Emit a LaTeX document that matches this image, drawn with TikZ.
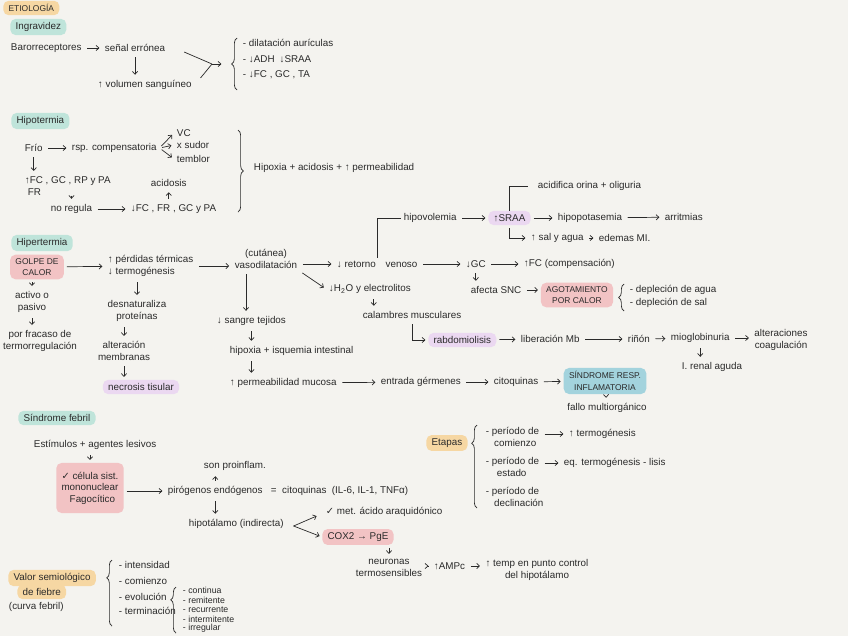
\documentclass[tikz,border=0pt]{standalone}
\usepackage{fontspec}
\setmainfont{Liberation Sans}
\newfontfamily\symfont{DejaVu Sans}
\usetikzlibrary{positioning,arrows.meta,decorations.pathreplacing}
\definecolor{paper}{HTML}{F4F3EF}
\definecolor{ink}{HTML}{2A2A2A}
\definecolor{hlorange}{HTML}{F6D7A3}
\definecolor{hlteal}{HTML}{BFE4DA}
\definecolor{hlpink}{HTML}{F2C3C4}
\definecolor{hllilac}{HTML}{EBD8F1}
\definecolor{hlblue}{HTML}{A3D3DD}
\newcommand{\chk}{{\symfont ✓}}
\newcommand{\caps}{\fontsize{4.8}{5.8}\selectfont}

\begin{document}
\begin{tikzpicture}[x=0.02cm, y=-0.02cm,
  every node/.style={font=\fontsize{5.6}{6.6}\selectfont, text=ink, inner sep=1.5pt},
  txt/.style={anchor=west},
  hl/.style={fill=#1, rounded corners=3pt, inner xsep=3pt, inner ysep=2pt},
  ln/.style={draw=ink, line width=0.4pt},
  arr/.style={ln, -{Straight Barb[length=1.6pt,width=3pt]}, shorten <=1.5pt, shorten >=1.5pt},
  brc/.style={ln, decorate, decoration={brace, amplitude=3pt, aspect=#1}}, brc/.default=0.5]
\fill[paper] (0,0) rectangle (848,636);
\useasboundingbox (0,0) rectangle (848,636);

% etiologia - ingravidez
\node[hl=hlorange, txt] (etio) at (3,8) {\caps ETIOLOGÍA};
\node[hl=hlteal, txt] (ingr) at (10,27) {Ingravidez};
\node[txt] (baro) at (8,48) {Barorreceptores};
\node[txt] (senal) at (102,48) {señal errónea};
\node[txt] (vol) at (95,85) {↑ volumen sanguíneo};
\coordinate (m1) at (212,64);
\coordinate (b1) at (224,64);
\node[txt] (d1) at (240,43) {- dilatación aurículas};
\node[txt] (d2) at (240,59) {- ↓ADH\enspace ↓SRAA};
\node[txt] (d3) at (240,75) {- ↓FC , GC , TA};

\draw[arr] (baro) -- (senal);
\draw[arr] (senal.south) -- (senal.south |- vol.north);
\draw[ln] ([shift={(16,4)}]senal.east) -- (m1);
\draw[ln] ([shift={(6,-7)}]vol.east) -- (m1);
\draw[arr, shorten <=0pt] (m1) -- (b1);
\draw[brc] (237,90) -- (237,38);

% hipotermia
\node[hl=hlteal, txt] (hipo) at (11,121) {Hipotermia};
\node[txt] (frio) at (22,148) {Frío};
\node[txt] (resp) at (69,148) {rsp. compensatoria};
\node[txt] (vc) at (174,133) {VC};
\node[txt] (sudor) at (174,145) {x sudor};
\node[txt] (tembl) at (174,159) {temblor};
\node[txt] (fc1) at (22,181) {↑FC , GC , RP y PA};
\node[txt] (fr1) at (25,192) {FR};
\node[txt] (noreg) at (48,209) {no regula};
\node[txt] (fc2) at (128,209) {↓FC , FR , GC y PA};
\node[txt] (acid) at (148,183) {acidosis};
\node[txt] (hipox) at (251,168) {Hipoxia + acidosis + ↑ permeabilidad};

\draw[arr] (frio) -- (resp);
\draw[arr] (resp.east) -- (vc.west);
\draw[arr] (resp.east) -- (sudor.west);
\draw[arr] (resp.east) -- (tembl.west);
\draw[arr] (frio.south) -- (frio.south |- fc1.north);
\draw[arr] (noreg.north |- fr1.south) -- (noreg.north);
\draw[arr] (noreg) -- (fc2);
\draw[arr] (acid.south |- fc2.north) -- (acid.south);
\draw[brc] (238,130) -- (238,212);

% hipertermia
\node[hl=hlteal, txt] (hiper) at (11,243) {Hipertermia};
\node[hl=hlpink, align=center] (golpe) at (37,267) {\caps GOLPE DE\\\caps CALOR};
\node[align=center] (activo) at (32,302) {activo o\\pasivo};
\node[align=center] (fracaso) at (40,341) {por fracaso de\\termorregulación};
\node[align=left, txt] (perd) at (105,266) {↑ pérdidas térmicas\\↓ termogénesis};
\node[align=center] (desn) at (137,311) {desnaturaliza\\proteínas};
\node[align=center] (alter) at (124,351) {alteración\\membranas};
\node[hl=hllilac] (necro) at (141,387) {necrosis tisular};

\draw[arr] (activo.north |- golpe.south) -- (activo.north);
\draw[arr] (activo.south) -- (activo.south |- fracaso.north);
\draw[arr] (golpe) -- (perd);
\draw[arr] (desn.north |- perd.south) -- (desn.north);
\draw[arr] (alter.north |- desn.south) -- (alter.north);
\draw[arr] (alter.south) -- (alter.south |- necro.north);

\node[align=center] (vaso) at (266,259) {(cutánea)\\vasodilatación};
\node[txt] (retorno) at (334,264) {↓ retorno\quad venoso};
\node[txt] (gc) at (463,264) {↓GC};
\node[txt] (fcc) at (521,264) {↑FC (compensación)};
\node[txt] (hipov) at (401,218) {hipovolemia};
\node[hl=hllilac, txt] (sraa) at (488,218) {↑SRAA};
\node[txt] (hipok) at (555,218) {hipopotasemia};
\node[txt] (arrit) at (662,217) {arritmias};
\node[txt] (acidif) at (535,186) {acidifica orina + oliguria};
\node[txt] (sal) at (528,238) {↑ sal y agua};
\node[txt] (edema) at (596,238) {edemas MI.};

\draw[arr] (perd.east) -- (perd.east -| vaso.west);
\draw[arr] (vaso.east |- retorno) -- (retorno);
\draw[arr] (retorno) -- (gc);
\draw[arr] (gc) -- (fcc);
\draw[ln] (retorno.north) |- (hipov.west);
\draw[arr] (hipov) -- (sraa);
\draw[arr] (sraa) -- (hipok);
\draw[arr] (hipok) -- (arrit);
\draw[ln, shorten >=4pt] (sraa.north) |- (acidif.west);
\draw[arr] (sraa.south) |- (sal.west);
\draw[arr] (sal) -- (edema);

\node[txt] (sangre) at (214,321) {↓ sangre tejidos};
\node[txt] (isq) at (227,351) {hipoxia + isquemia intestinal};
\node[txt] (perm) at (227,383) {↑ permeabilidad mucosa};
\node[txt] (germ) at (378,382) {entrada gérmenes};
\node[txt] (cito) at (491,382) {citoquinas};
\node[hl=hlblue, align=center] (sris) at (605,381) {\caps SÍNDROME RESP.\\\caps INFLAMATORIA};
\node (fallo) at (607,408) {fallo multiorgánico};

\coordinate (v1) at ([shift={(-20,0)}]vaso.south);
\draw[arr] (v1) -- (v1 |- sangre.north);
\draw[arr] (sangre.south) -- (sangre.south |- isq.north);
\draw[arr] (sangre.south |- isq.south) -- (sangre.south |- perm.north);
\draw[arr] (perm) -- (germ);
\draw[arr] (germ) -- (cito);
\draw[arr] (cito) -- (sris);
\draw[arr] (sris) -- (fallo);

\node[txt] (h2o) at (326,289) {↓H\textsubscript{2}O y electrolitos};
\node (calamb) at (412,315) {calambres musculares};
\node[hl=hllilac, txt] (rabdo) at (428,340) {rabdomiolisis};
\node[txt] (mb) at (518,339) {liberación Mb};
\node[txt] (rinon) at (625,339) {riñón};
\node[txt] (miog) at (668,338) {mioglobinuria};
\node[align=center] (coag) at (781,340) {alteraciones\\coagulación};
\node (irenal) at (712,367) {I. renal aguda};
\node[txt] (snc) at (468,290) {afecta SNC};
\node[hl=hlpink, align=center] (agot) at (577,295) {\caps AGOTAMIENTO\\\caps POR CALOR};
\node[txt] (dep1) at (627,290) {- depleción de agua};
\node[txt] (dep2) at (627,303) {- depleción de sal};

\path (calamb.north west) ++(14,0) coordinate (c1);
\draw[arr] (vaso.south east) -- (h2o.west);
\draw[arr] (c1 |- h2o.south) -- (c1);
\draw[arr] (calamb.south) |- (rabdo.west);
\draw[arr] (rabdo) -- (mb);
\draw[arr] (mb) -- (rinon);
\draw[arr] (rinon) -- (miog);
\draw[arr] (miog.east) -- (miog.east -| coag.west);
\draw[arr] (miog.south) -- (miog.south |- irenal.north);
\draw[arr] (gc.south) -- (gc.south |- snc.north);
\draw[arr] (snc.east) -- (snc.east -| agot.west);
\draw[brc] (624,311) -- (624,284);

% sindrome febril
\node[hl=hlteal, txt] (febril) at (18,418) {Síndrome febril};
\node[txt] (estim) at (31,445) {Estímulos + agentes lesivos};
\node[hl=hlpink, align=left, inner ysep=5pt] (celula) at (90,488) {\chk\ célula sist.\\mononuclear\\\ \ \ Fagocítico};
\node[txt] (piro) at (165,491) {pirógenos endógenos};
\node[txt] (citoq) at (268,491) {=\ \ citoquinas\ \ (IL-6, IL-1, TNFα)};
\node[txt] (proinf) at (201,466) {son proinflam.};
\node[txt] (hipot) at (186,524) {hipotálamo (indirecta)};
\coordinate (k) at ([shift={(7,2)}]hipot.east);
\node[txt] (met) at (323,512) {\chk\ met. ácido araquidónico};
\node[hl=hlpink, txt] (cox) at (322,537) {COX2 → PgE};
\node[align=center] (neur) at (389,568) {neuronas\\termosensibles};
\node[txt] (ampc) at (431,566) {↑AMPc};
\node[align=center] (temp) at (537,570) {↑ temp en punto control\\del hipotálamo};

\draw[arr] (celula.north |- estim.south) -- (celula.north);
\draw[arr] (celula.east |- piro) -- (piro);
\draw[arr] (piro.north) -- (piro.north |- proinf.south);
\draw[arr] (piro.south) -- (piro.south |- hipot.north);
\draw[arr, shorten <=0pt] (k) -- ([shift={(-4,3)}]met.west);
\draw[arr, shorten <=0pt] (k) -- (cox.west);
\draw[arr] (neur.north |- cox.south) -- (neur.north);
\draw[arr] (neur.east |- ampc) -- (ampc);
\draw[arr] (ampc) -- (ampc -| temp.west);

% etapas
\node[hl=hlorange, txt] (etapas) at (426,443) {Etapas};
\node[align=left, txt] (com) at (483,437) {- período de\\\ \ \ comienzo};
\node[txt] (termo) at (566,434) {↑ termogénesis};
\node[align=left, txt] (est) at (483,467) {- período de\\\ \ \ \ estado};
\node[txt] (eq) at (561,463) {eq. termogénesis - lisis};
\node[align=left, txt] (decl) at (483,497) {- período de\\\ \ \ declinación};

\draw[brc=0.78] (477,508) -- (477,425);
\draw[arr] (com.east |- termo) -- (termo);
\draw[arr] (est.east |- eq) -- (eq);

% valor semiologico
\node[hl=hlorange, txt] (valor) at (8,578) {Valor semiológico};
\node[hl=hlorange, txt] (defieb) at (17,592) {de fiebre};
\node[txt] (curva) at (6,607) {(curva febril)};
\node[txt] (inten) at (116,565) {- intensidad};
\node[txt] (comz) at (116,581) {- comienzo};
\node[txt] (evol) at (116,597) {- evolución};
\node[txt] (termi) at (116,611) {- terminación};
\node[txt, font=\fontsize{5}{6}\selectfont] (cont) at (180,590) {- continua};
\node[txt, font=\fontsize{5}{6}\selectfont] (remi) at (180,600) {- remitente};
\node[txt, font=\fontsize{5}{6}\selectfont] (recu) at (180,610) {- recurrente};
\node[txt, font=\fontsize{5}{6}\selectfont] (inter) at (180,619) {- intermitente};
\node[txt, font=\fontsize{5}{6}\selectfont] (irreg) at (180,628) {- irregular};

\draw[brc=0.73] (112,626) -- (112,560);
\draw[brc=0.72] (176,633) -- (176,587);
\end{tikzpicture}
\end{document}
